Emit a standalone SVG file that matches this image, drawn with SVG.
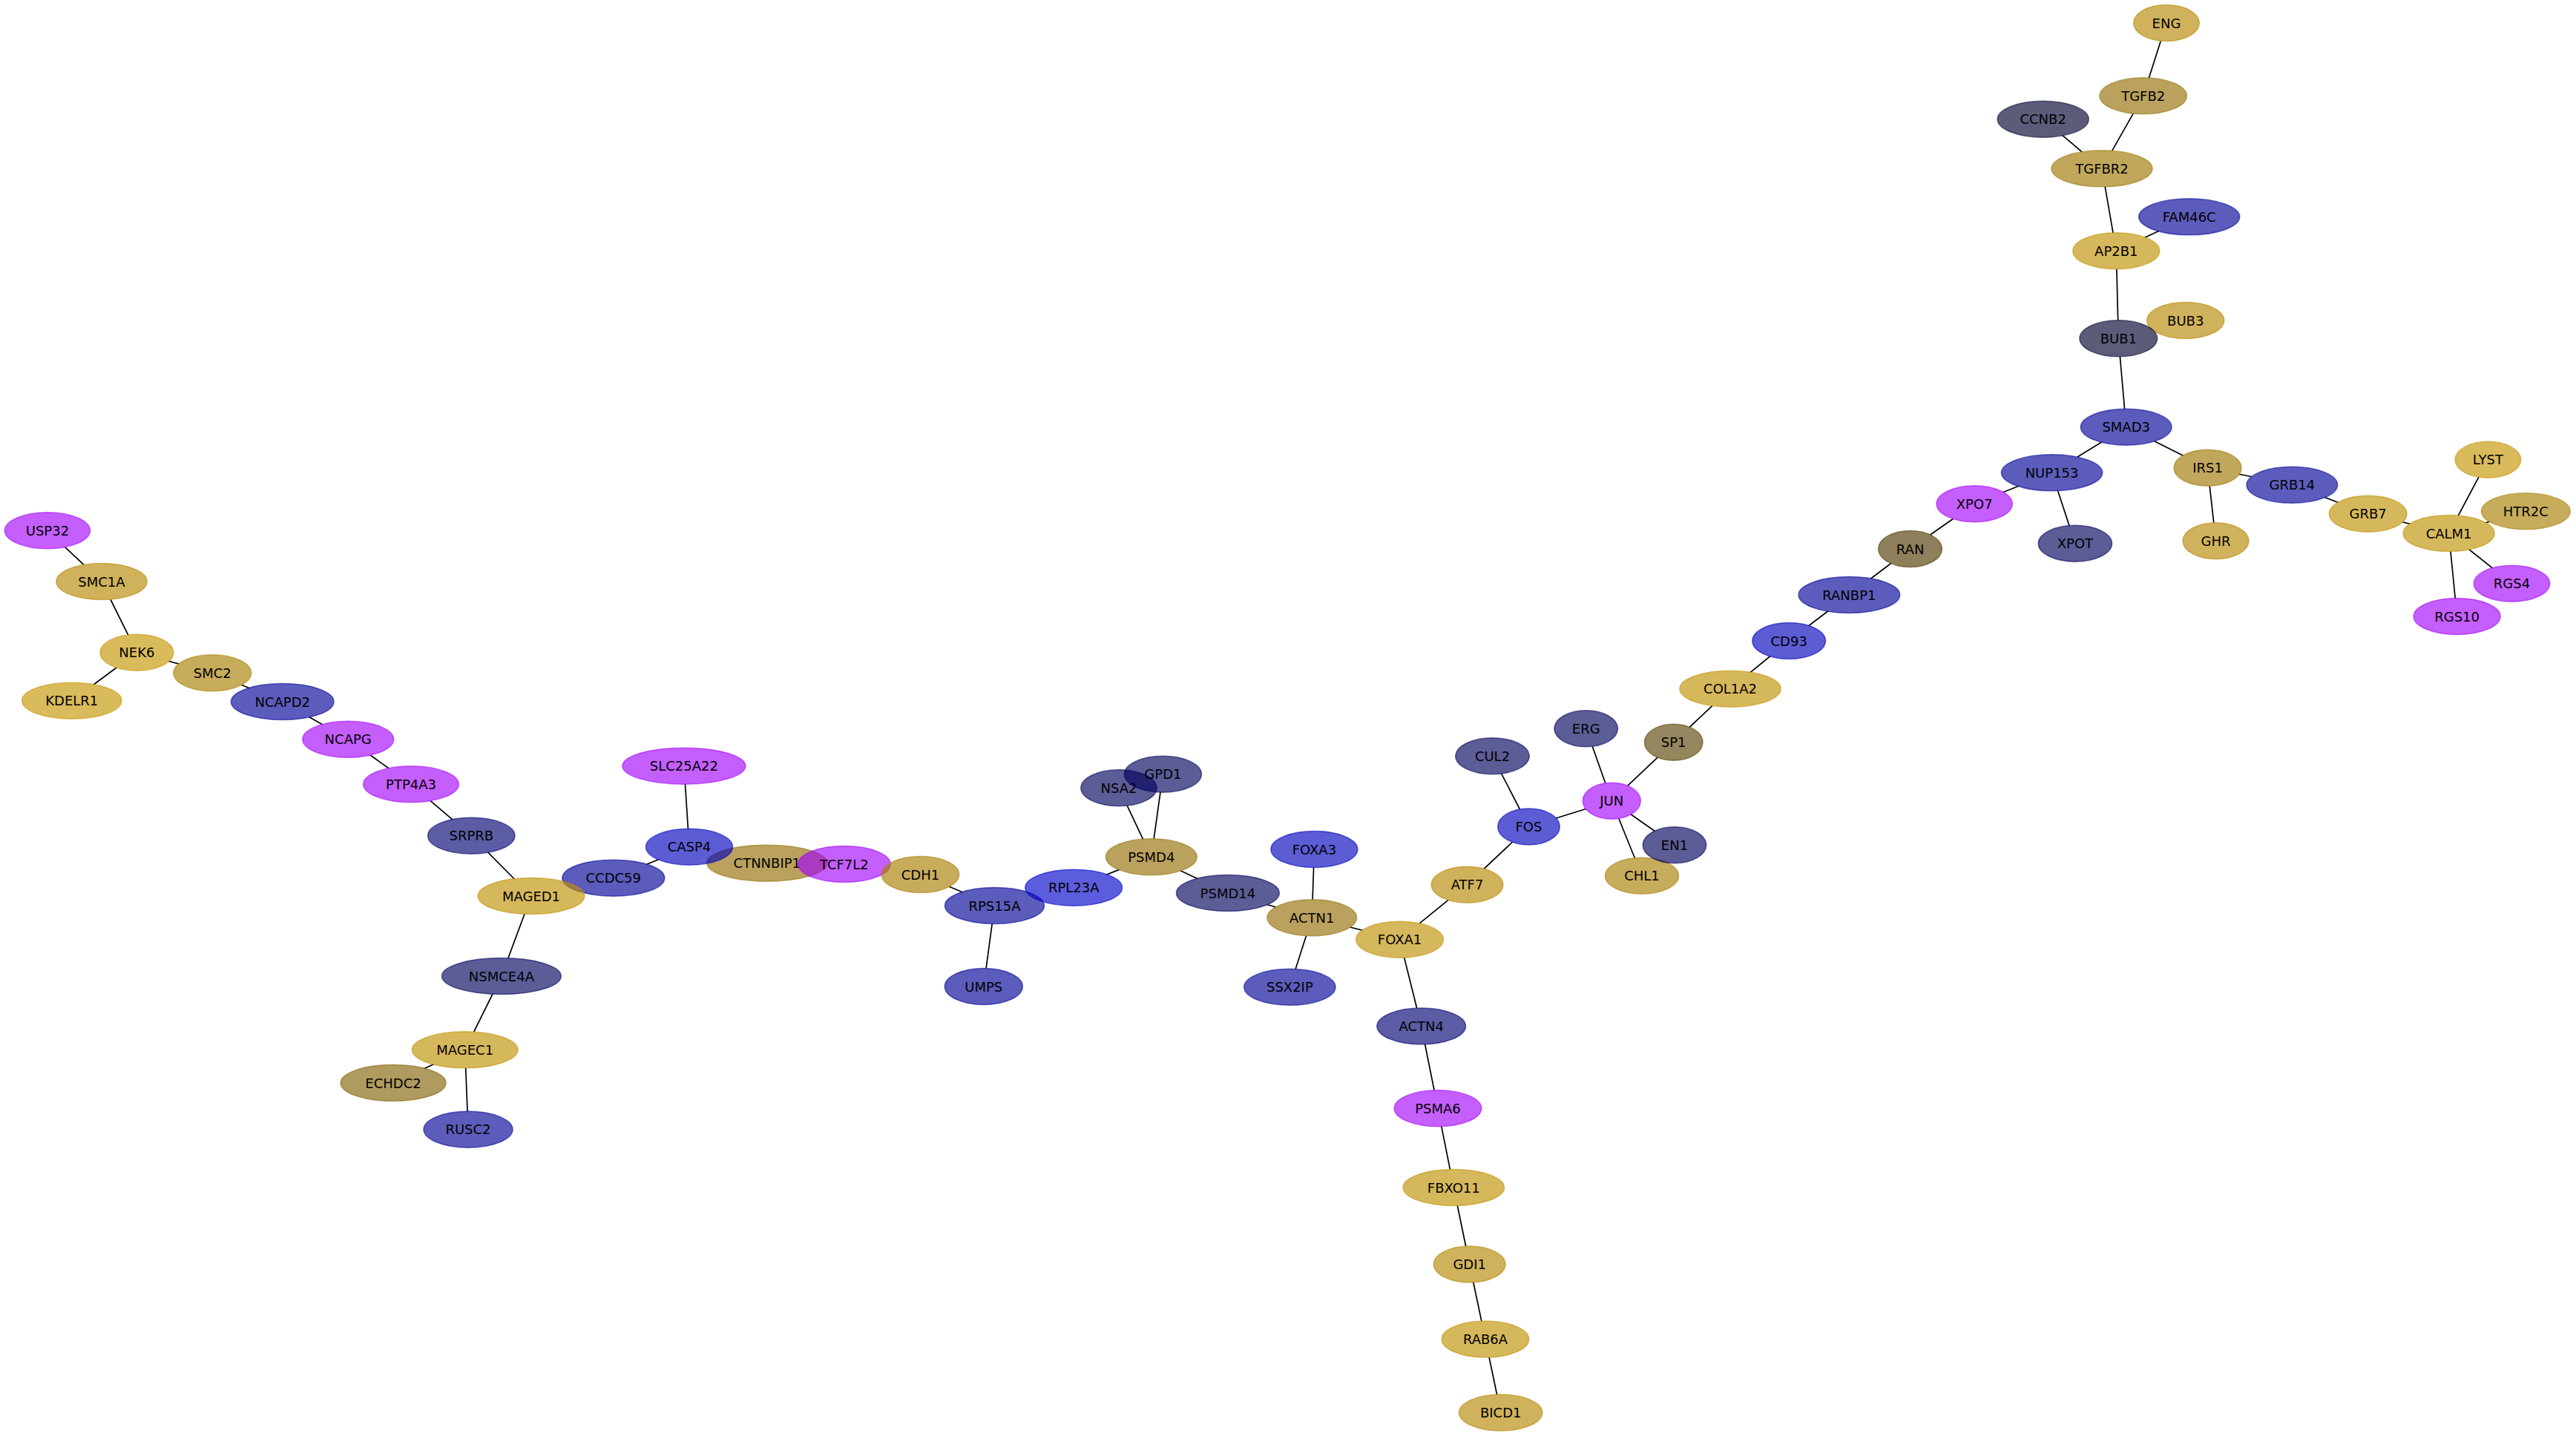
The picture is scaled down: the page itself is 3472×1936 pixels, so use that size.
<svg xmlns="http://www.w3.org/2000/svg" width="3472" height="1936" viewBox="0 0 3472 1936">
<style>
.n ellipse{fill-opacity:.64;stroke-opacity:.55;stroke-width:1.6}
.n text{font-family:"DejaVu Sans",sans-serif;font-size:18px;text-anchor:middle;fill:#000}
.pur{fill:#a303fa;stroke:#a303fa}
.gb{fill:#c59400;stroke:#c59400}
.g{fill:#bf9000;stroke:#bf9000}
.g2{fill:#b68600;stroke:#b68600}
.t{fill:#a87d00;stroke:#a87d00}
.t2{fill:#9d7500;stroke:#9d7500}
.t3{fill:#936e03;stroke:#936e03}
.kh{fill:#826305;stroke:#826305}
.sp{fill:#584203;stroke:#584203}
.ran{fill:#4e3800;stroke:#4e3800}
.bb{fill:#0000bc;stroke:#0000bc}
.bb2{fill:#0000cb;stroke:#0000cb}
.bm{fill:#000096;stroke:#000096}
.sl{fill:#000070;stroke:#000070}
.sd{fill:#00005a;stroke:#00005a}
.dk{fill:#00002f;stroke:#00002f}
.e line{stroke:#000;stroke-width:1.7}
.mk ellipse{fill:#000}
</style>
<defs>
<mask id="m" maskUnits="userSpaceOnUse" x="0" y="0" width="3472" height="1936">
<rect x="0" y="0" width="3472" height="1936" fill="#fff"/>
<g class="mk">
<ellipse cx="63.9" cy="715.3" rx="57.6" ry="24.5"/>
<ellipse cx="137" cy="784" rx="61.2" ry="24.5"/>
<ellipse cx="184.4" cy="879.7" rx="49.4" ry="24.5"/>
<ellipse cx="286.2" cy="907.3" rx="52.4" ry="24.5"/>
<ellipse cx="96.8" cy="944.7" rx="67.2" ry="24.5"/>
<ellipse cx="380.7" cy="946" rx="69.3" ry="24.5"/>
<ellipse cx="469.2" cy="996.7" rx="61.4" ry="24.5"/>
<ellipse cx="554" cy="1057.3" rx="64.3" ry="24.5"/>
<ellipse cx="921.9" cy="1032.7" rx="83" ry="24.5"/>
<ellipse cx="635.3" cy="1126.7" rx="58.7" ry="24.5"/>
<ellipse cx="929" cy="1141.7" rx="58.5" ry="24.5"/>
<ellipse cx="826.8" cy="1183.7" rx="69" ry="24.5"/>
<ellipse cx="716" cy="1208" rx="71.9" ry="24.5"/>
<ellipse cx="675.9" cy="1316" rx="80.4" ry="24.5"/>
<ellipse cx="1033.8" cy="1163.7" rx="81" ry="24.5"/>
<ellipse cx="1137.9" cy="1165" rx="62.3" ry="24.5"/>
<ellipse cx="1240.5" cy="1179" rx="52.2" ry="24.5"/>
<ellipse cx="1340.5" cy="1221" rx="67" ry="24.5"/>
<ellipse cx="1447.2" cy="1196.7" rx="65.4" ry="24.5"/>
<ellipse cx="1325.8" cy="1330" rx="52.5" ry="24.5"/>
<ellipse cx="1508" cy="1062.3" rx="51.1" ry="24.5"/>
<ellipse cx="1567.4" cy="1043.7" rx="52" ry="24.5"/>
<ellipse cx="1551.8" cy="1155.3" rx="61.4" ry="24.5"/>
<ellipse cx="1654.9" cy="1204" rx="69.4" ry="24.5"/>
<ellipse cx="1771.4" cy="1145" rx="58.5" ry="24.5"/>
<ellipse cx="1768.3" cy="1237.3" rx="60.3" ry="24.5"/>
<ellipse cx="1886.6" cy="1266.7" rx="58.9" ry="24.5"/>
<ellipse cx="1738.4" cy="1330.7" rx="61.6" ry="24.5"/>
<ellipse cx="1977.5" cy="1192.7" rx="48.3" ry="24.5"/>
<ellipse cx="1915.7" cy="1383.5" rx="59.8" ry="24.5"/>
<ellipse cx="2011.5" cy="1019.3" rx="49.7" ry="24.5"/>
<ellipse cx="2060.5" cy="1114.5" rx="41.8" ry="24.5"/>
<ellipse cx="2137.7" cy="982.3" rx="42.8" ry="24.5"/>
<ellipse cx="2172.3" cy="1079.7" rx="39" ry="24.5"/>
<ellipse cx="2255.7" cy="1000.7" rx="39.3" ry="24.5"/>
<ellipse cx="2257" cy="1139.3" rx="42.8" ry="24.5"/>
<ellipse cx="2213" cy="1180.7" rx="49.5" ry="24.5"/>
<ellipse cx="1938" cy="1494.3" rx="58.8" ry="24.5"/>
<ellipse cx="1959.3" cy="1601" rx="68.2" ry="24.5"/>
<ellipse cx="1980.7" cy="1704.5" rx="48.3" ry="24.5"/>
<ellipse cx="2002" cy="1805.5" rx="58.8" ry="24.5"/>
<ellipse cx="2022.7" cy="1904.5" rx="56.2" ry="24.5"/>
<ellipse cx="2332.1" cy="928.7" rx="68.1" ry="24.5"/>
<ellipse cx="2411.2" cy="864" rx="49.3" ry="24.5"/>
<ellipse cx="2492.4" cy="802" rx="68.3" ry="24.5"/>
<ellipse cx="2574.6" cy="740" rx="42.9" ry="24.5"/>
<ellipse cx="2661.2" cy="679.3" rx="51.1" ry="24.5"/>
<ellipse cx="2765.6" cy="637.3" rx="68.1" ry="24.5"/>
<ellipse cx="2796.9" cy="732.7" rx="49.6" ry="24.5"/>
<ellipse cx="2865.7" cy="575.7" rx="61.3" ry="24.5"/>
<ellipse cx="2975.5" cy="630.7" rx="45.5" ry="24.5"/>
<ellipse cx="2986.5" cy="729.3" rx="44.5" ry="24.5"/>
<ellipse cx="3089.3" cy="653.7" rx="61.3" ry="24.5"/>
<ellipse cx="3191.7" cy="692.7" rx="52.3" ry="24.5"/>
<ellipse cx="3300.6" cy="719" rx="61.5" ry="24.5"/>
<ellipse cx="3353.4" cy="619.7" rx="44.3" ry="24.5"/>
<ellipse cx="3404.3" cy="689.3" rx="59.9" ry="24.5"/>
<ellipse cx="3385.5" cy="786.7" rx="51.2" ry="24.5"/>
<ellipse cx="3311.6" cy="831" rx="58.5" ry="24.5"/>
<ellipse cx="2920" cy="31" rx="44.3" ry="24.5"/>
<ellipse cx="2888.7" cy="129.3" rx="58.7" ry="24.5"/>
<ellipse cx="2753.7" cy="160.7" rx="61.5" ry="24.5"/>
<ellipse cx="2833" cy="227.3" rx="68" ry="24.5"/>
<ellipse cx="2950.7" cy="292.3" rx="68" ry="24.5"/>
<ellipse cx="2852.3" cy="338.3" rx="58.5" ry="24.5"/>
<ellipse cx="2945.7" cy="432" rx="52" ry="24.5"/>
<ellipse cx="2855.3" cy="456.3" rx="52.3" ry="24.5"/>
<ellipse cx="626.7" cy="1415.3" rx="71.3" ry="24.5"/>
<ellipse cx="530" cy="1460" rx="71" ry="24.5"/>
<ellipse cx="631" cy="1522.7" rx="60" ry="24.5"/>
</g>
</mask>
</defs>
<rect x="0" y="0" width="3472" height="1936" fill="#fff"/>
<g id="connectors" class="e" mask="url(#m)">
<line x1="63.9" y1="715.3" x2="137" y2="784"/>
<line x1="137" y1="784" x2="184.4" y2="879.7"/>
<line x1="184.4" y1="879.7" x2="96.8" y2="944.7"/>
<line x1="184.4" y1="879.7" x2="286.2" y2="907.3"/>
<line x1="286.2" y1="907.3" x2="380.7" y2="946"/>
<line x1="380.7" y1="946" x2="469.2" y2="996.7"/>
<line x1="469.2" y1="996.7" x2="554" y2="1057.3"/>
<line x1="554" y1="1057.3" x2="635.3" y2="1126.7"/>
<line x1="635.3" y1="1126.7" x2="716" y2="1208"/>
<line x1="716" y1="1208" x2="826.8" y2="1183.7"/>
<line x1="716" y1="1208" x2="675.9" y2="1316"/>
<line x1="675.9" y1="1316" x2="626.7" y2="1415.3"/>
<line x1="626.7" y1="1415.3" x2="530" y2="1460"/>
<line x1="626.7" y1="1415.3" x2="631" y2="1522.7"/>
<line x1="826.8" y1="1183.7" x2="929" y2="1141.7"/>
<line x1="929" y1="1141.7" x2="921.9" y2="1032.7"/>
<line x1="929" y1="1141.7" x2="1033.8" y2="1163.7"/>
<line x1="1033.8" y1="1163.7" x2="1137.9" y2="1165"/>
<line x1="1137.9" y1="1165" x2="1240.5" y2="1179"/>
<line x1="1240.5" y1="1179" x2="1340.5" y2="1221"/>
<line x1="1340.5" y1="1221" x2="1325.8" y2="1330"/>
<line x1="1340.5" y1="1221" x2="1447.2" y2="1196.7"/>
<line x1="1447.2" y1="1196.7" x2="1551.8" y2="1155.3"/>
<line x1="1551.8" y1="1155.3" x2="1508" y2="1062.3"/>
<line x1="1551.8" y1="1155.3" x2="1567.4" y2="1043.7"/>
<line x1="1551.8" y1="1155.3" x2="1654.9" y2="1204"/>
<line x1="1654.9" y1="1204" x2="1768.3" y2="1237.3"/>
<line x1="1768.3" y1="1237.3" x2="1771.4" y2="1145"/>
<line x1="1768.3" y1="1237.3" x2="1738.4" y2="1330.7"/>
<line x1="1768.3" y1="1237.3" x2="1886.6" y2="1266.7"/>
<line x1="1886.6" y1="1266.7" x2="1977.5" y2="1192.7"/>
<line x1="1886.6" y1="1266.7" x2="1915.7" y2="1383.5"/>
<line x1="1977.5" y1="1192.7" x2="2060.5" y2="1114.5"/>
<line x1="2060.5" y1="1114.5" x2="2011.5" y2="1019.3"/>
<line x1="2060.5" y1="1114.5" x2="2172.3" y2="1079.7"/>
<line x1="2172.3" y1="1079.7" x2="2137.7" y2="982.3"/>
<line x1="2172.3" y1="1079.7" x2="2255.7" y2="1000.7"/>
<line x1="2172.3" y1="1079.7" x2="2257" y2="1139.3"/>
<line x1="2172.3" y1="1079.7" x2="2213" y2="1180.7"/>
<line x1="2255.7" y1="1000.7" x2="2332.1" y2="928.7"/>
<line x1="2332.1" y1="928.7" x2="2411.2" y2="864"/>
<line x1="2411.2" y1="864" x2="2492.4" y2="802"/>
<line x1="2492.4" y1="802" x2="2574.6" y2="740"/>
<line x1="2574.6" y1="740" x2="2661.2" y2="679.3"/>
<line x1="2661.2" y1="679.3" x2="2765.6" y2="637.3"/>
<line x1="2765.6" y1="637.3" x2="2796.9" y2="732.7"/>
<line x1="2765.6" y1="637.3" x2="2865.7" y2="575.7"/>
<line x1="2865.7" y1="575.7" x2="2855.3" y2="456.3"/>
<line x1="2865.7" y1="575.7" x2="2975.5" y2="630.7"/>
<line x1="2975.5" y1="630.7" x2="2986.5" y2="729.3"/>
<line x1="2975.5" y1="630.7" x2="3089.3" y2="653.7"/>
<line x1="3089.3" y1="653.7" x2="3191.7" y2="692.7"/>
<line x1="3191.7" y1="692.7" x2="3300.6" y2="719"/>
<line x1="3300.6" y1="719" x2="3353.4" y2="619.7"/>
<line x1="3300.6" y1="719" x2="3404.3" y2="689.3"/>
<line x1="3300.6" y1="719" x2="3385.5" y2="786.7"/>
<line x1="3300.6" y1="719" x2="3311.6" y2="831"/>
<line x1="2855.3" y1="456.3" x2="2852.3" y2="338.3"/>
<line x1="2855.3" y1="456.3" x2="2945.7" y2="432"/>
<line x1="2852.3" y1="338.3" x2="2950.7" y2="292.3"/>
<line x1="2852.3" y1="338.3" x2="2833" y2="227.3"/>
<line x1="2833" y1="227.3" x2="2753.7" y2="160.7"/>
<line x1="2833" y1="227.3" x2="2888.7" y2="129.3"/>
<line x1="2888.7" y1="129.3" x2="2920" y2="31"/>
<line x1="1915.7" y1="1383.5" x2="1938" y2="1494.3"/>
<line x1="1938" y1="1494.3" x2="1959.3" y2="1601"/>
<line x1="1959.3" y1="1601" x2="1980.7" y2="1704.5"/>
<line x1="1980.7" y1="1704.5" x2="2002" y2="1805.5"/>
<line x1="2002" y1="1805.5" x2="2022.7" y2="1904.5"/>
</g>
<g id="nodes">
<g id="n-USP32" class="n"><ellipse class="pur" cx="63.9" cy="715.3" rx="57.6" ry="24.5"/><text x="63.9" y="721.8">USP32</text></g>
<g id="n-SMC1A" class="n"><ellipse class="g2" cx="137" cy="784" rx="61.2" ry="24.5"/><text x="137" y="790.5">SMC1A</text></g>
<g id="n-NEK6" class="n"><ellipse class="gb" cx="184.4" cy="879.7" rx="49.4" ry="24.5"/><text x="184.4" y="886.2">NEK6</text></g>
<g id="n-SMC2" class="n"><ellipse class="t" cx="286.2" cy="907.3" rx="52.4" ry="24.5"/><text x="286.2" y="913.8">SMC2</text></g>
<g id="n-KDELR1" class="n"><ellipse class="gb" cx="96.8" cy="944.7" rx="67.2" ry="24.5"/><text x="96.8" y="951.2">KDELR1</text></g>
<g id="n-NCAPD2" class="n"><ellipse class="bm" cx="380.7" cy="946" rx="69.3" ry="24.5"/><text x="380.7" y="952.5">NCAPD2</text></g>
<g id="n-NCAPG" class="n"><ellipse class="pur" cx="469.2" cy="996.7" rx="61.4" ry="24.5"/><text x="469.2" y="1003.2">NCAPG</text></g>
<g id="n-PTP4A3" class="n"><ellipse class="pur" cx="554" cy="1057.3" rx="64.3" ry="24.5"/><text x="554" y="1063.8">PTP4A3</text></g>
<g id="n-SLC25A22" class="n"><ellipse class="pur" cx="921.9" cy="1032.7" rx="83" ry="24.5"/><text x="921.9" y="1039.2">SLC25A22</text></g>
<g id="n-SRPRB" class="n"><ellipse class="sl" cx="635.3" cy="1126.7" rx="58.7" ry="24.5"/><text x="635.3" y="1133.2">SRPRB</text></g>
<g id="n-CCDC59" class="n"><ellipse class="bm" cx="826.8" cy="1183.7" rx="69" ry="24.5"/><text x="826.8" y="1190.2">CCDC59</text></g>
<g id="n-MAGED1" class="n"><ellipse class="g" cx="716" cy="1208" rx="71.9" ry="24.5"/><text x="716" y="1214.5">MAGED1</text></g>
<g id="n-NSMCE4A" class="n"><ellipse class="sd" cx="675.9" cy="1316" rx="80.4" ry="24.5"/><text x="675.9" y="1322.5">NSMCE4A</text></g>
<g id="n-MAGEC1" class="n"><ellipse class="g" cx="626.7" cy="1415.3" rx="71.3" ry="24.5"/><text x="626.7" y="1421.8">MAGEC1</text></g>
<g id="n-ECHDC2" class="n"><ellipse class="kh" cx="530" cy="1460" rx="71" ry="24.5"/><text x="530" y="1466.5">ECHDC2</text></g>
<g id="n-RUSC2" class="n"><ellipse class="bm" cx="631" cy="1522.7" rx="60" ry="24.5"/><text x="631" y="1529.2">RUSC2</text></g>
<g id="n-CTNNBIP1" class="n"><ellipse class="t3" cx="1033.8" cy="1163.7" rx="81" ry="24.5"/><text x="1033.8" y="1170.2">CTNNBIP1</text></g>
<g id="n-CASP4" class="n"><ellipse class="bb" cx="929" cy="1141.7" rx="58.5" ry="24.5"/><text x="929" y="1148.2">CASP4</text></g>
<g id="n-TCF7L2" class="n"><ellipse class="pur" cx="1137.9" cy="1165" rx="62.3" ry="24.5"/><text x="1137.9" y="1171.5">TCF7L2</text></g>
<g id="n-CDH1" class="n"><ellipse class="t" cx="1240.5" cy="1179" rx="52.2" ry="24.5"/><text x="1240.5" y="1185.5">CDH1</text></g>
<g id="n-RPS15A" class="n"><ellipse class="bm" cx="1340.5" cy="1221" rx="67" ry="24.5"/><text x="1340.5" y="1227.5">RPS15A</text></g>
<g id="n-RPL23A" class="n"><ellipse class="bb2" cx="1447.2" cy="1196.7" rx="65.4" ry="24.5"/><text x="1447.2" y="1203.2">RPL23A</text></g>
<g id="n-UMPS" class="n"><ellipse class="bm" cx="1325.8" cy="1330" rx="52.5" ry="24.5"/><text x="1325.8" y="1336.5">UMPS</text></g>
<g id="n-NSA2" class="n"><ellipse class="sd" cx="1508" cy="1062.3" rx="51.1" ry="24.5"/><text x="1508" y="1068.8">NSA2</text></g>
<g id="n-GPD1" class="n"><ellipse class="sd" cx="1567.4" cy="1043.7" rx="52" ry="24.5"/><text x="1567.4" y="1050.2">GPD1</text></g>
<g id="n-PSMD4" class="n"><ellipse class="t3" cx="1551.8" cy="1155.3" rx="61.4" ry="24.5"/><text x="1551.8" y="1161.8">PSMD4</text></g>
<g id="n-PSMD14" class="n"><ellipse class="sd" cx="1654.9" cy="1204" rx="69.4" ry="24.5"/><text x="1654.9" y="1210.5">PSMD14</text></g>
<g id="n-FOXA3" class="n"><ellipse class="bb" cx="1771.4" cy="1145" rx="58.5" ry="24.5"/><text x="1771.4" y="1151.5">FOXA3</text></g>
<g id="n-ACTN1" class="n"><ellipse class="t3" cx="1768.3" cy="1237.3" rx="60.3" ry="24.5"/><text x="1768.3" y="1243.8">ACTN1</text></g>
<g id="n-SSX2IP" class="n"><ellipse class="bm" cx="1738.4" cy="1330.7" rx="61.6" ry="24.5"/><text x="1738.4" y="1337.2">SSX2IP</text></g>
<g id="n-FOXA1" class="n"><ellipse class="g" cx="1886.6" cy="1266.7" rx="58.9" ry="24.5"/><text x="1886.6" y="1273.2">FOXA1</text></g>
<g id="n-ATF7" class="n"><ellipse class="g2" cx="1977.5" cy="1192.7" rx="48.3" ry="24.5"/><text x="1977.5" y="1199.2">ATF7</text></g>
<g id="n-ACTN4" class="n"><ellipse class="sl" cx="1915.7" cy="1383.5" rx="59.8" ry="24.5"/><text x="1915.7" y="1390">ACTN4</text></g>
<g id="n-PSMA6" class="n"><ellipse class="pur" cx="1938" cy="1494.3" rx="58.8" ry="24.5"/><text x="1938" y="1500.8">PSMA6</text></g>
<g id="n-FBXO11" class="n"><ellipse class="g" cx="1959.3" cy="1601" rx="68.2" ry="24.5"/><text x="1959.3" y="1607.5">FBXO11</text></g>
<g id="n-GDI1" class="n"><ellipse class="g2" cx="1980.7" cy="1704.5" rx="48.3" ry="24.5"/><text x="1980.7" y="1711">GDI1</text></g>
<g id="n-RAB6A" class="n"><ellipse class="g" cx="2002" cy="1805.5" rx="58.8" ry="24.5"/><text x="2002" y="1812">RAB6A</text></g>
<g id="n-BICD1" class="n"><ellipse class="g2" cx="2022.7" cy="1904.5" rx="56.2" ry="24.5"/><text x="2022.7" y="1911">BICD1</text></g>
<g id="n-CUL2" class="n"><ellipse class="sd" cx="2011.5" cy="1019.3" rx="49.7" ry="24.5"/><text x="2011.5" y="1025.8">CUL2</text></g>
<g id="n-FOS" class="n"><ellipse class="bb" cx="2060.5" cy="1114.5" rx="41.8" ry="24.5"/><text x="2060.5" y="1121">FOS</text></g>
<g id="n-ERG" class="n"><ellipse class="sd" cx="2137.7" cy="982.3" rx="42.8" ry="24.5"/><text x="2137.7" y="988.8">ERG</text></g>
<g id="n-JUN" class="n"><ellipse class="pur" cx="2172.3" cy="1079.7" rx="39" ry="24.5"/><text x="2172.3" y="1086.2">JUN</text></g>
<g id="n-SP1" class="n"><ellipse class="sp" cx="2255.7" cy="1000.7" rx="39.3" ry="24.5"/><text x="2255.7" y="1007.2">SP1</text></g>
<g id="n-CHL1" class="n"><ellipse class="t" cx="2213" cy="1180.7" rx="49.5" ry="24.5"/><text x="2213" y="1187.2">CHL1</text></g>
<g id="n-EN1" class="n"><ellipse class="sd" cx="2257" cy="1139.3" rx="42.8" ry="24.5"/><text x="2257" y="1145.8">EN1</text></g>
<g id="n-COL1A2" class="n"><ellipse class="g" cx="2332.1" cy="928.7" rx="68.1" ry="24.5"/><text x="2332.1" y="935.2">COL1A2</text></g>
<g id="n-CD93" class="n"><ellipse class="bb" cx="2411.2" cy="864" rx="49.3" ry="24.5"/><text x="2411.2" y="870.5">CD93</text></g>
<g id="n-RANBP1" class="n"><ellipse class="bm" cx="2492.4" cy="802" rx="68.3" ry="24.5"/><text x="2492.4" y="808.5">RANBP1</text></g>
<g id="n-RAN" class="n"><ellipse class="ran" cx="2574.6" cy="740" rx="42.9" ry="24.5"/><text x="2574.6" y="746.5">RAN</text></g>
<g id="n-XPO7" class="n"><ellipse class="pur" cx="2661.2" cy="679.3" rx="51.1" ry="24.5"/><text x="2661.2" y="685.8">XPO7</text></g>
<g id="n-NUP153" class="n"><ellipse class="bm" cx="2765.6" cy="637.3" rx="68.1" ry="24.5"/><text x="2765.6" y="643.8">NUP153</text></g>
<g id="n-XPOT" class="n"><ellipse class="sd" cx="2796.9" cy="732.7" rx="49.6" ry="24.5"/><text x="2796.9" y="739.2">XPOT</text></g>
<g id="n-SMAD3" class="n"><ellipse class="bm" cx="2865.7" cy="575.7" rx="61.3" ry="24.5"/><text x="2865.7" y="582.2">SMAD3</text></g>
<g id="n-IRS1" class="n"><ellipse class="t2" cx="2975.5" cy="630.7" rx="45.5" ry="24.5"/><text x="2975.5" y="637.2">IRS1</text></g>
<g id="n-GHR" class="n"><ellipse class="g2" cx="2986.5" cy="729.3" rx="44.5" ry="24.5"/><text x="2986.5" y="735.8">GHR</text></g>
<g id="n-GRB14" class="n"><ellipse class="bm" cx="3089.3" cy="653.7" rx="61.3" ry="24.5"/><text x="3089.3" y="660.2">GRB14</text></g>
<g id="n-GRB7" class="n"><ellipse class="g" cx="3191.7" cy="692.7" rx="52.3" ry="24.5"/><text x="3191.7" y="699.2">GRB7</text></g>
<g id="n-LYST" class="n"><ellipse class="gb" cx="3353.4" cy="619.7" rx="44.3" ry="24.5"/><text x="3353.4" y="626.2">LYST</text></g>
<g id="n-HTR2C" class="n"><ellipse class="t" cx="3404.3" cy="689.3" rx="59.9" ry="24.5"/><text x="3404.3" y="695.8">HTR2C</text></g>
<g id="n-CALM1" class="n"><ellipse class="g" cx="3300.6" cy="719" rx="61.5" ry="24.5"/><text x="3300.6" y="725.5">CALM1</text></g>
<g id="n-RGS4" class="n"><ellipse class="pur" cx="3385.5" cy="786.7" rx="51.2" ry="24.5"/><text x="3385.5" y="793.2">RGS4</text></g>
<g id="n-RGS10" class="n"><ellipse class="pur" cx="3311.6" cy="831" rx="58.5" ry="24.5"/><text x="3311.6" y="837.5">RGS10</text></g>
<g id="n-ENG" class="n"><ellipse class="g2" cx="2920" cy="31" rx="44.3" ry="24.5"/><text x="2920" y="37.5">ENG</text></g>
<g id="n-TGFB2" class="n"><ellipse class="t3" cx="2888.7" cy="129.3" rx="58.7" ry="24.5"/><text x="2888.7" y="135.8">TGFB2</text></g>
<g id="n-CCNB2" class="n"><ellipse class="dk" cx="2753.7" cy="160.7" rx="61.5" ry="24.5"/><text x="2753.7" y="167.2">CCNB2</text></g>
<g id="n-TGFBR2" class="n"><ellipse class="t2" cx="2833" cy="227.3" rx="68" ry="24.5"/><text x="2833" y="233.8">TGFBR2</text></g>
<g id="n-FAM46C" class="n"><ellipse class="bm" cx="2950.7" cy="292.3" rx="68" ry="24.5"/><text x="2950.7" y="298.8">FAM46C</text></g>
<g id="n-AP2B1" class="n"><ellipse class="g" cx="2852.3" cy="338.3" rx="58.5" ry="24.5"/><text x="2852.3" y="344.8">AP2B1</text></g>
<g id="n-BUB3" class="n"><ellipse class="g2" cx="2945.7" cy="432" rx="52" ry="24.5"/><text x="2945.7" y="438.5">BUB3</text></g>
<g id="n-BUB1" class="n"><ellipse class="dk" cx="2855.3" cy="456.3" rx="52.3" ry="24.5"/><text x="2855.3" y="462.8">BUB1</text></g>
</g>
</svg>
